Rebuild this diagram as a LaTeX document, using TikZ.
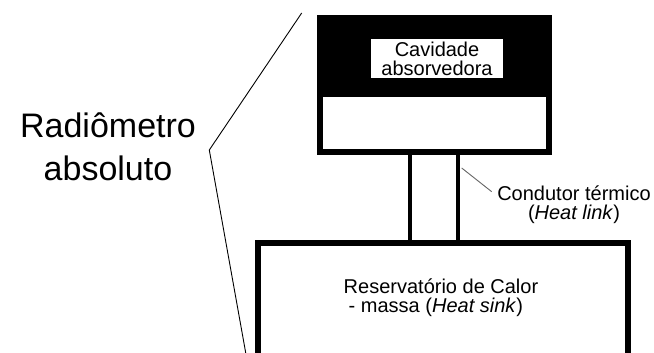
\documentclass[tikz,border=0pt]{standalone}
\usepackage{fontspec}
\setmainfont{Liberation Sans}
\usetikzlibrary{calc}
\tikzset{
  thickbox/.style={draw=black, line width=6pt, fill=white, inner sep=0pt},
  post/.style={draw=black, line width=4pt},
  thinline/.style={draw=black, line width=0.9pt},
  leader/.style={draw=black!60, line width=0.9pt},
  lbl/.style={font=\fontsize{20}{19}\selectfont, align=center, inner sep=0pt},
}
\begin{document}
\begin{tikzpicture}[x=1pt, y=-1pt]
\clip (0,0) rectangle (654,353);
\fill[white] (0,0) rectangle (654,353);
% top box (cavity)
\node[thickbox, minimum width=229pt, minimum height=134pt] (cav) at (434.2,85) {};
\fill[black] (cav.north west) rectangle ($(cav.north east)+(0,82)$);
\node[lbl, fill=white, minimum width=132pt, minimum height=39pt] (cavlbl) at (437,58.5) {Cavidade\\absorvedora};
% bottom box (heat sink)
\node[thickbox, minimum width=370pt, minimum height=140pt] (sink) at (443,313) {};
\node[lbl, align=left] (sinklbl) at (441,297.5) {Reservatório de Calor\\\hspace{5pt}- massa (\textit{Heat sink})};
% heat link posts
\coordinate (pl) at (409.5,0);
\coordinate (pr) at (458,0);
\draw[post] (pl |- cav.south) -- (pl |- sink.north);
\draw[post] (pr |- cav.south) -- (pr |- sink.north);
% heat link label
\node[lbl] (cond) at (574,205) {Condutor térmico\\(\textit{Heat link})};
\coordinate (lk) at (461.7,168);
\coordinate (le) at (491.7,191.7);
\draw[leader] (lk) -- (le);
% radiometer label
\node[font=\fontsize{34}{43}\selectfont, align=center, inner sep=0pt] (rad) at (108,146.5) {Radiômetro\\absoluto};
% bracket polyline
\coordinate (b1) at (301.7,13);
\coordinate (b2) at (209.3,150);
\coordinate (b3) at (247,360);
\draw[thinline] (b1) -- (b2) -- (b3);
\end{tikzpicture}
\end{document}
